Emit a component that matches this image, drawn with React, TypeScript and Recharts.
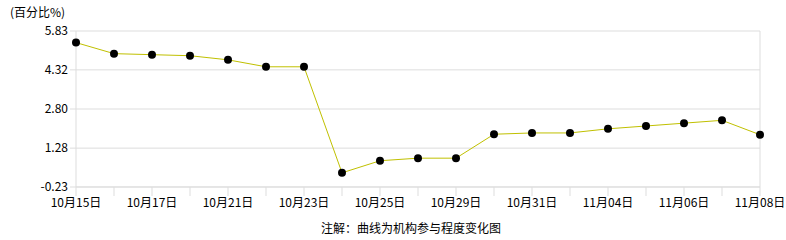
import { LineChart, Line, XAxis, YAxis, CartesianGrid, ReferenceLine } from 'recharts';

const DATES = [
  '10月15日', '10月16日', '10月17日', '10月18日', '10月21日', '10月22日', '10月23日',
  '10月24日', '10月25日', '10月28日', '10月29日', '10月30日', '10月31日', '11月01日',
  '11月04日', '11月05日', '11月06日', '11月07日', '11月08日',
];
const VALUES = [
  5.38, 4.95, 4.91, 4.87, 4.71, 4.44, 4.44, 0.32, 0.79, 0.89, 0.89, 1.82, 1.87, 1.87,
  2.03, 2.14, 2.25, 2.36, 1.8,
];
const Y_TICKS = [-0.23, 1.28, 2.8, 4.32, 5.83];

const rows = DATES.map((d, i) => ({ date: d, value: VALUES[i] }));

const FONT = '"Noto Sans CJK SC", "DejaVu Sans", sans-serif';
const GRID = '#dddddd';

export default function App() {
  return (
    <div style={{ position: 'absolute', left: 0, top: 0, width: 786, height: 240, background: '#fff', fontFamily: FONT }}>
      <div style={{ position: 'absolute', left: 10, top: 3, fontSize: 12, color: '#000' }}>(百分比%)</div>
      <LineChart width={786} height={240} data={rows} margin={{ top: 31, right: 26, bottom: 23, left: 0 }}>
        <CartesianGrid vertical={false} stroke={GRID} />
        <XAxis
          dataKey="date"
          interval={0}
          height={30}
          tickSize={9}
          stroke={GRID}
          tickFormatter={(v: string, i: number) => (i % 2 === 0 ? v : '')}
          tick={{ fontSize: 12, fill: '#000', fontFamily: FONT }}
        />
        <YAxis
          domain={[-0.23, 5.83]}
          ticks={Y_TICKS}
          width={76}
          tickSize={6}
          stroke={GRID}
          tickFormatter={(v: number) => v.toFixed(2)}
          tick={{ fontSize: 12, fill: '#000', fontFamily: FONT }}
        />
        <ReferenceLine x={DATES[DATES.length - 1]} stroke={GRID} />
        <Line
          type="linear"
          dataKey="value"
          stroke="#c0c000"
          strokeWidth={1}
          dot={{ r: 4, fill: '#000', stroke: '#000', strokeWidth: 0 }}
          isAnimationActive={false}
        />
      </LineChart>
      <div style={{ position: 'absolute', left: 0, width: 822, top: 219, textAlign: 'center', fontSize: 12, color: '#000' }}>
        注解：曲线为机构参与程度变化图
      </div>
    </div>
  );
}
